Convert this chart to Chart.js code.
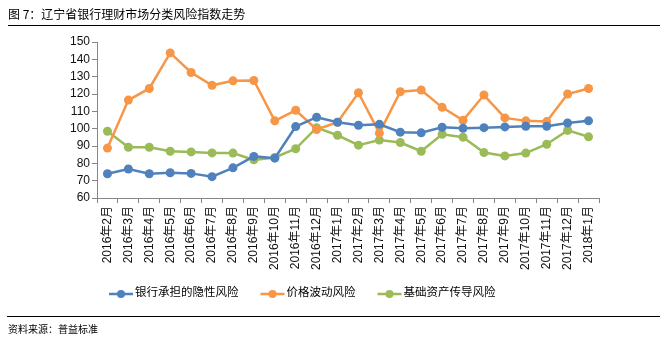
<!DOCTYPE html>
<html>
<head>
<meta charset="utf-8">
<script src="https://cdn.jsdelivr.net/npm/chart.js@4/dist/chart.umd.min.js"></script>
<style>
  html, body { margin: 0; padding: 0; background: #fff; }
  #wrap { position: relative; width: 668px; height: 348px; overflow: hidden; }
  #title { position: absolute; left: 8px; top: 5px; font: 12px "Noto Sans CJK SC", sans-serif; color: #000; white-space: nowrap; }
  #topline { position: absolute; left: 8px; top: 25px; width: 652px; height: 1px; background: #000; }
  #botline { position: absolute; left: 7px; top: 316px; width: 653px; height: 1px; background: #000; }
  #source { position: absolute; left: 8px; top: 321px; font: 10px "Noto Sans CJK SC", sans-serif; color: #000; white-space: nowrap; }
  canvas { position: absolute; left: 0; top: 0; }
</style>
</head>
<body>
<div id="wrap">
  <canvas id="chart" width="668" height="348"></canvas>
  <div id="title">图 7：辽宁省银行理财市场分类风险指数走势</div>
  <div id="topline"></div>
  <div id="botline"></div>
  <div id="source">资料来源：普益标准</div>
</div>
<script>
// months, Feb 2016 .. Jan 2018
const months = [
  '2016年2月', '2016年3月', '2016年4月', '2016年5月', '2016年6月', '2016年7月',
  '2016年8月', '2016年9月', '2016年10月', '2016年11月', '2016年12月', '2017年1月',
  '2017年2月', '2017年3月', '2017年4月', '2017年5月', '2017年6月', '2017年7月',
  '2017年8月', '2017年9月', '2017年10月', '2017年11月', '2017年12月', '2018年1月'
];

const seriesNames = ['银行承担的隐性风险', '价格波动风险', '基础资产传导风险'];

// values
const hiddenRisk = [74, 76.7, 74, 74.6, 74.2, 72.3, 77.4, 84, 83, 101.2, 106.6, 103.7,
  102, 102.5, 98, 97.6, 100.8, 100.2, 100.6, 101, 101.4, 101.4, 103.3, 104.5];
const priceRisk = [88.8, 116.5, 123.2, 143.7, 132.4, 125, 127.6, 127.8, 104.5, 110.6, 99.5, 103.7,
  120.7, 97.4, 121.3, 122.3, 112.3, 104.8, 119.4, 106.2, 104.5, 104.1, 120, 123.2];
const assetRisk = [98.5, 89.3, 89.3, 87, 86.6, 86, 85.9, 82, 83.4, 88.4, 100.6, 96.2,
  90.5, 93.4, 92, 87, 96.8, 95.1, 86.2, 84.3, 85.9, 91, 99, 95.3];

const yTicks = { min: 60, max: 150, step: 10 };

const colors = ['#4F81BD', '#F79646', '#9BBB59'];
const fontFamily = '"Liberation Sans", "Noto Sans CJK SC", sans-serif';

function makeSet(label, data, color) {
  return {
    label: label,
    data: data,
    borderColor: color,
    backgroundColor: color,
    borderWidth: 2.5,
    pointRadius: 4.5,
    pointHoverRadius: 4.5,
    pointBorderWidth: 0,
    tension: 0
  };
}

// legend drawn by hand so it sits where the original one is
const legendPlugin = {
  id: 'lineLegend',
  afterDraw(chart) {
    const ctx = chart.ctx;
    const y = 294;
    let x = 109;
    ctx.save();
    ctx.font = '11.5px "Noto Sans CJK SC", sans-serif';
    ctx.textBaseline = 'middle';
    chart.data.datasets.forEach(ds => {
      ctx.strokeStyle = ds.borderColor;
      ctx.lineWidth = 2.5;
      ctx.beginPath();
      ctx.moveTo(x, y);
      ctx.lineTo(x + 24, y);
      ctx.stroke();
      ctx.fillStyle = ds.borderColor;
      ctx.beginPath();
      ctx.arc(x + 12, y, 4, 0, Math.PI * 2);
      ctx.fill();
      ctx.fillStyle = '#000';
      ctx.fillText(ds.label, x + 26, y - 2);
      x += 26 + ctx.measureText(ds.label).width + 22;
    });
    ctx.restore();
  }
};

new Chart(document.getElementById('chart'), {
  type: 'line',
  data: {
    labels: months,
    datasets: [
      makeSet(seriesNames[0], hiddenRisk, colors[0]),
      makeSet(seriesNames[1], priceRisk, colors[1]),
      makeSet(seriesNames[2], assetRisk, colors[2])
    ]
  },
  options: {
    responsive: false,
    animation: false,
    layout: { padding: { left: 67, right: 69, top: 42, bottom: 70 } },
    plugins: {
      legend: { display: false },
      tooltip: { enabled: false }
    },
    scales: {
      x: {
        offset: true,
        afterFit: s => { s.height = 80; },
        grid: { offset: true, drawOnChartArea: false, tickLength: 5, color: '#868686' },
        border: { color: '#868686', width: 1 },
        ticks: {
          autoSkip: false,
          minRotation: 90,
          maxRotation: 90,
          padding: 3,
          color: '#111',
          font: { family: fontFamily, size: 12 }
        }
      },
      y: {
        min: yTicks.min,
        max: yTicks.max,
        afterFit: s => { s.width = 30; },
        grid: { drawOnChartArea: false, tickLength: 5, color: '#868686' },
        border: { color: '#868686', width: 1 },
        ticks: {
          stepSize: yTicks.step,
          autoSkip: false,
          maxTicksLimit: 20,
          padding: 2,
          color: '#111',
          font: { family: fontFamily, size: 12, lineHeight: 1 }
        }
      }
    }
  },
  plugins: [legendPlugin]
});
</script>
</body>
</html>
